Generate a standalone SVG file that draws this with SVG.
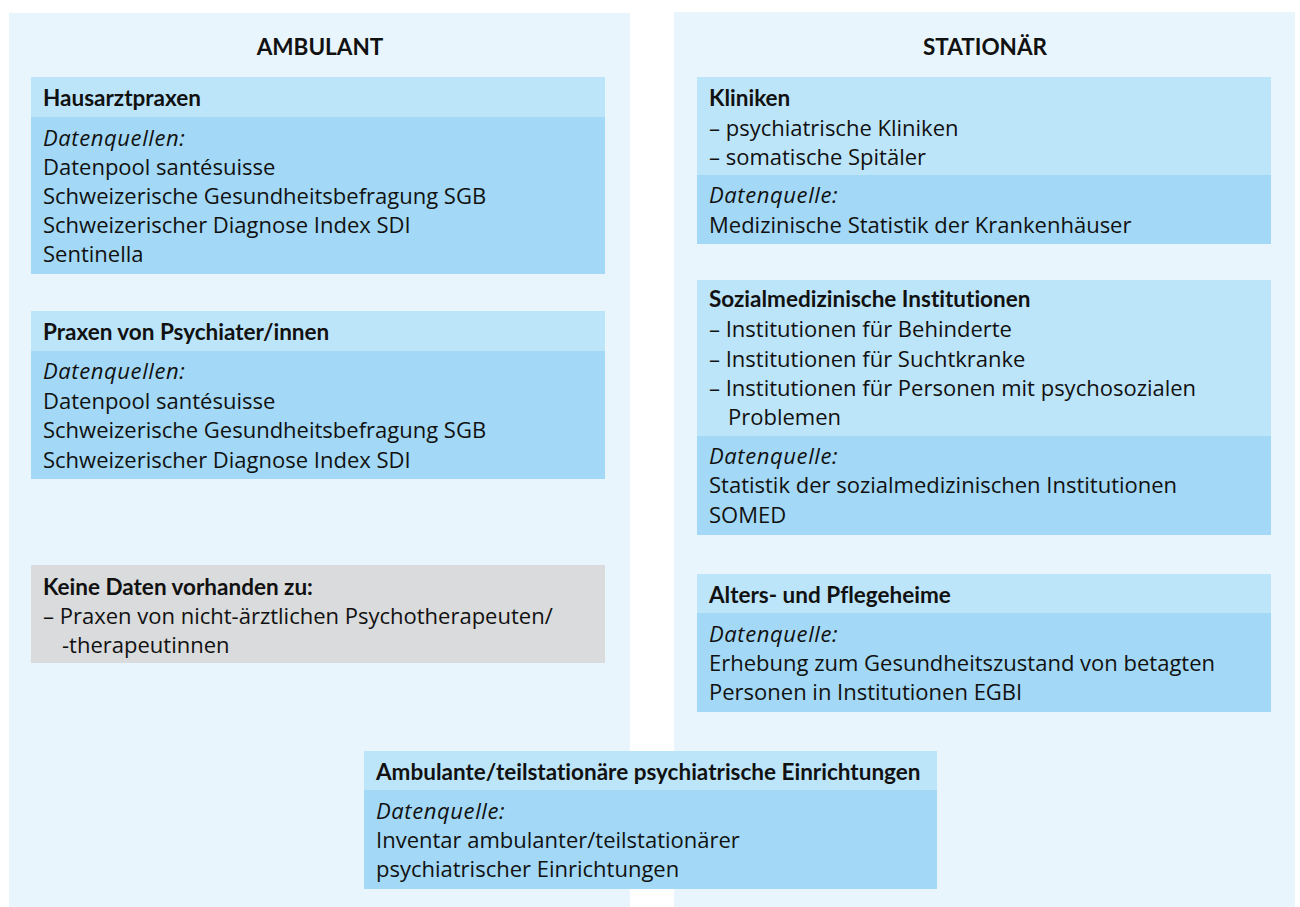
<svg xmlns="http://www.w3.org/2000/svg" width="1300" height="907" viewBox="0 0 1300 907">
<style>
.panel{fill:#e8f5fd}
.hd{fill:#bde5f9}
.bd{fill:#a3d9f6}
.gr{fill:#d9dbdc}
text{font-family:"Open Sans","Liberation Sans",sans-serif;font-size:22px;fill:#111;font-variant-ligatures:none}
.b{font-family:Lato,"Open Sans","Liberation Sans",sans-serif;font-weight:bold;font-size:22.5px}
.i{font-style:italic;letter-spacing:0.6px}
.t{font-family:Lato,"Open Sans","Liberation Sans",sans-serif;font-weight:bold;font-size:22.5px;text-anchor:middle}
</style>
<rect width="1300" height="907" fill="#ffffff"/>
<g id="panel-ambulant">
<rect class="panel" x="9" y="13" width="621" height="894"/>
<text class="t" x="320" y="55">AMBULANT</text>
</g>
<g id="panel-stationaer">
<rect class="panel" x="674" y="12" width="621" height="895"/>
<text class="t" x="985" y="55">STATIONÄR</text>
</g>
<g id="connectors"/>
<g id="hausarztpraxen">
<rect class="bd" x="31" y="77" width="574" height="197"/>
<rect class="hd" x="31" y="77" width="574" height="40"/>
<text class="b" x="43" y="106">Hausarztpraxen</text>
<text class="i" x="43" y="146">Datenquellen:</text>
<text x="43" y="175">Datenpool santésuisse</text>
<text x="43" y="204">Schweizerische Gesundheitsbefragung SGB</text>
<text x="43" y="233">Schweizerischer Diagnose Index SDI</text>
<text x="43" y="262">Sentinella</text>
</g>
<g id="psychiater">
<rect class="bd" x="31" y="311" width="574" height="168"/>
<rect class="hd" x="31" y="311" width="574" height="40"/>
<text class="b" x="43" y="340">Praxen von Psychiater/innen</text>
<text class="i" x="43" y="379">Datenquellen:</text>
<text x="43" y="409">Datenpool santésuisse</text>
<text x="43" y="438">Schweizerische Gesundheitsbefragung SGB</text>
<text x="43" y="468">Schweizerischer Diagnose Index SDI</text>
</g>
<g id="keine-daten">
<rect class="gr" x="31" y="565" width="574" height="98"/>
<text class="b" x="43" y="595">Keine Daten vorhanden zu:</text>
<text x="43" y="624">– Praxen von nicht-ärztlichen Psychotherapeuten/</text>
<text x="62" y="653">-therapeutinnen</text>
</g>
<g id="kliniken">
<rect class="bd" x="697" y="77" width="574" height="167"/>
<rect class="hd" x="697" y="77" width="574" height="98"/>
<text class="b" x="709" y="106">Kliniken</text>
<text x="709" y="136">– psychiatrische Kliniken</text>
<text x="709" y="165">– somatische Spitäler</text>
<text class="i" x="709" y="203">Datenquelle:</text>
<text x="709" y="233">Medizinische Statistik der Krankenhäuser</text>
</g>
<g id="sozialmedizinische">
<rect class="bd" x="697" y="280" width="574" height="255"/>
<rect class="hd" x="697" y="280" width="574" height="156"/>
<text class="b" x="709" y="307">Sozialmedizinische Institutionen</text>
<text x="709" y="337">– Institutionen für Behinderte</text>
<text x="709" y="367">– Institutionen für Suchtkranke</text>
<text x="709" y="396">– Institutionen für Personen mit psychosozialen</text>
<text x="728" y="425">Problemen</text>
<text class="i" x="709" y="464">Datenquelle:</text>
<text x="709" y="493">Statistik der sozialmedizinischen Institutionen</text>
<text x="709" y="523">SOMED</text>
</g>
<g id="alters-pflegeheime">
<rect class="bd" x="697" y="574" width="574" height="138"/>
<rect class="hd" x="697" y="574" width="574" height="39"/>
<text class="b" x="709" y="603">Alters- und Pflegeheime</text>
<text class="i" x="709" y="642">Datenquelle:</text>
<text x="709" y="671">Erhebung zum Gesundheitszustand von betagten</text>
<text x="709" y="700">Personen in Institutionen EGBI</text>
</g>
<g id="ambulante-teilstationaere">
<rect class="bd" x="364" y="751" width="573" height="138"/>
<rect class="hd" x="364" y="751" width="573" height="39"/>
<text class="b" x="376" y="780">Ambulante/teilstationäre psychiatrische Einrichtungen</text>
<text class="i" x="376" y="819">Datenquelle:</text>
<text x="376" y="848">Inventar ambulanter/teilstationärer</text>
<text x="376" y="877">psychiatrischer Einrichtungen</text>
</g>
</svg>
